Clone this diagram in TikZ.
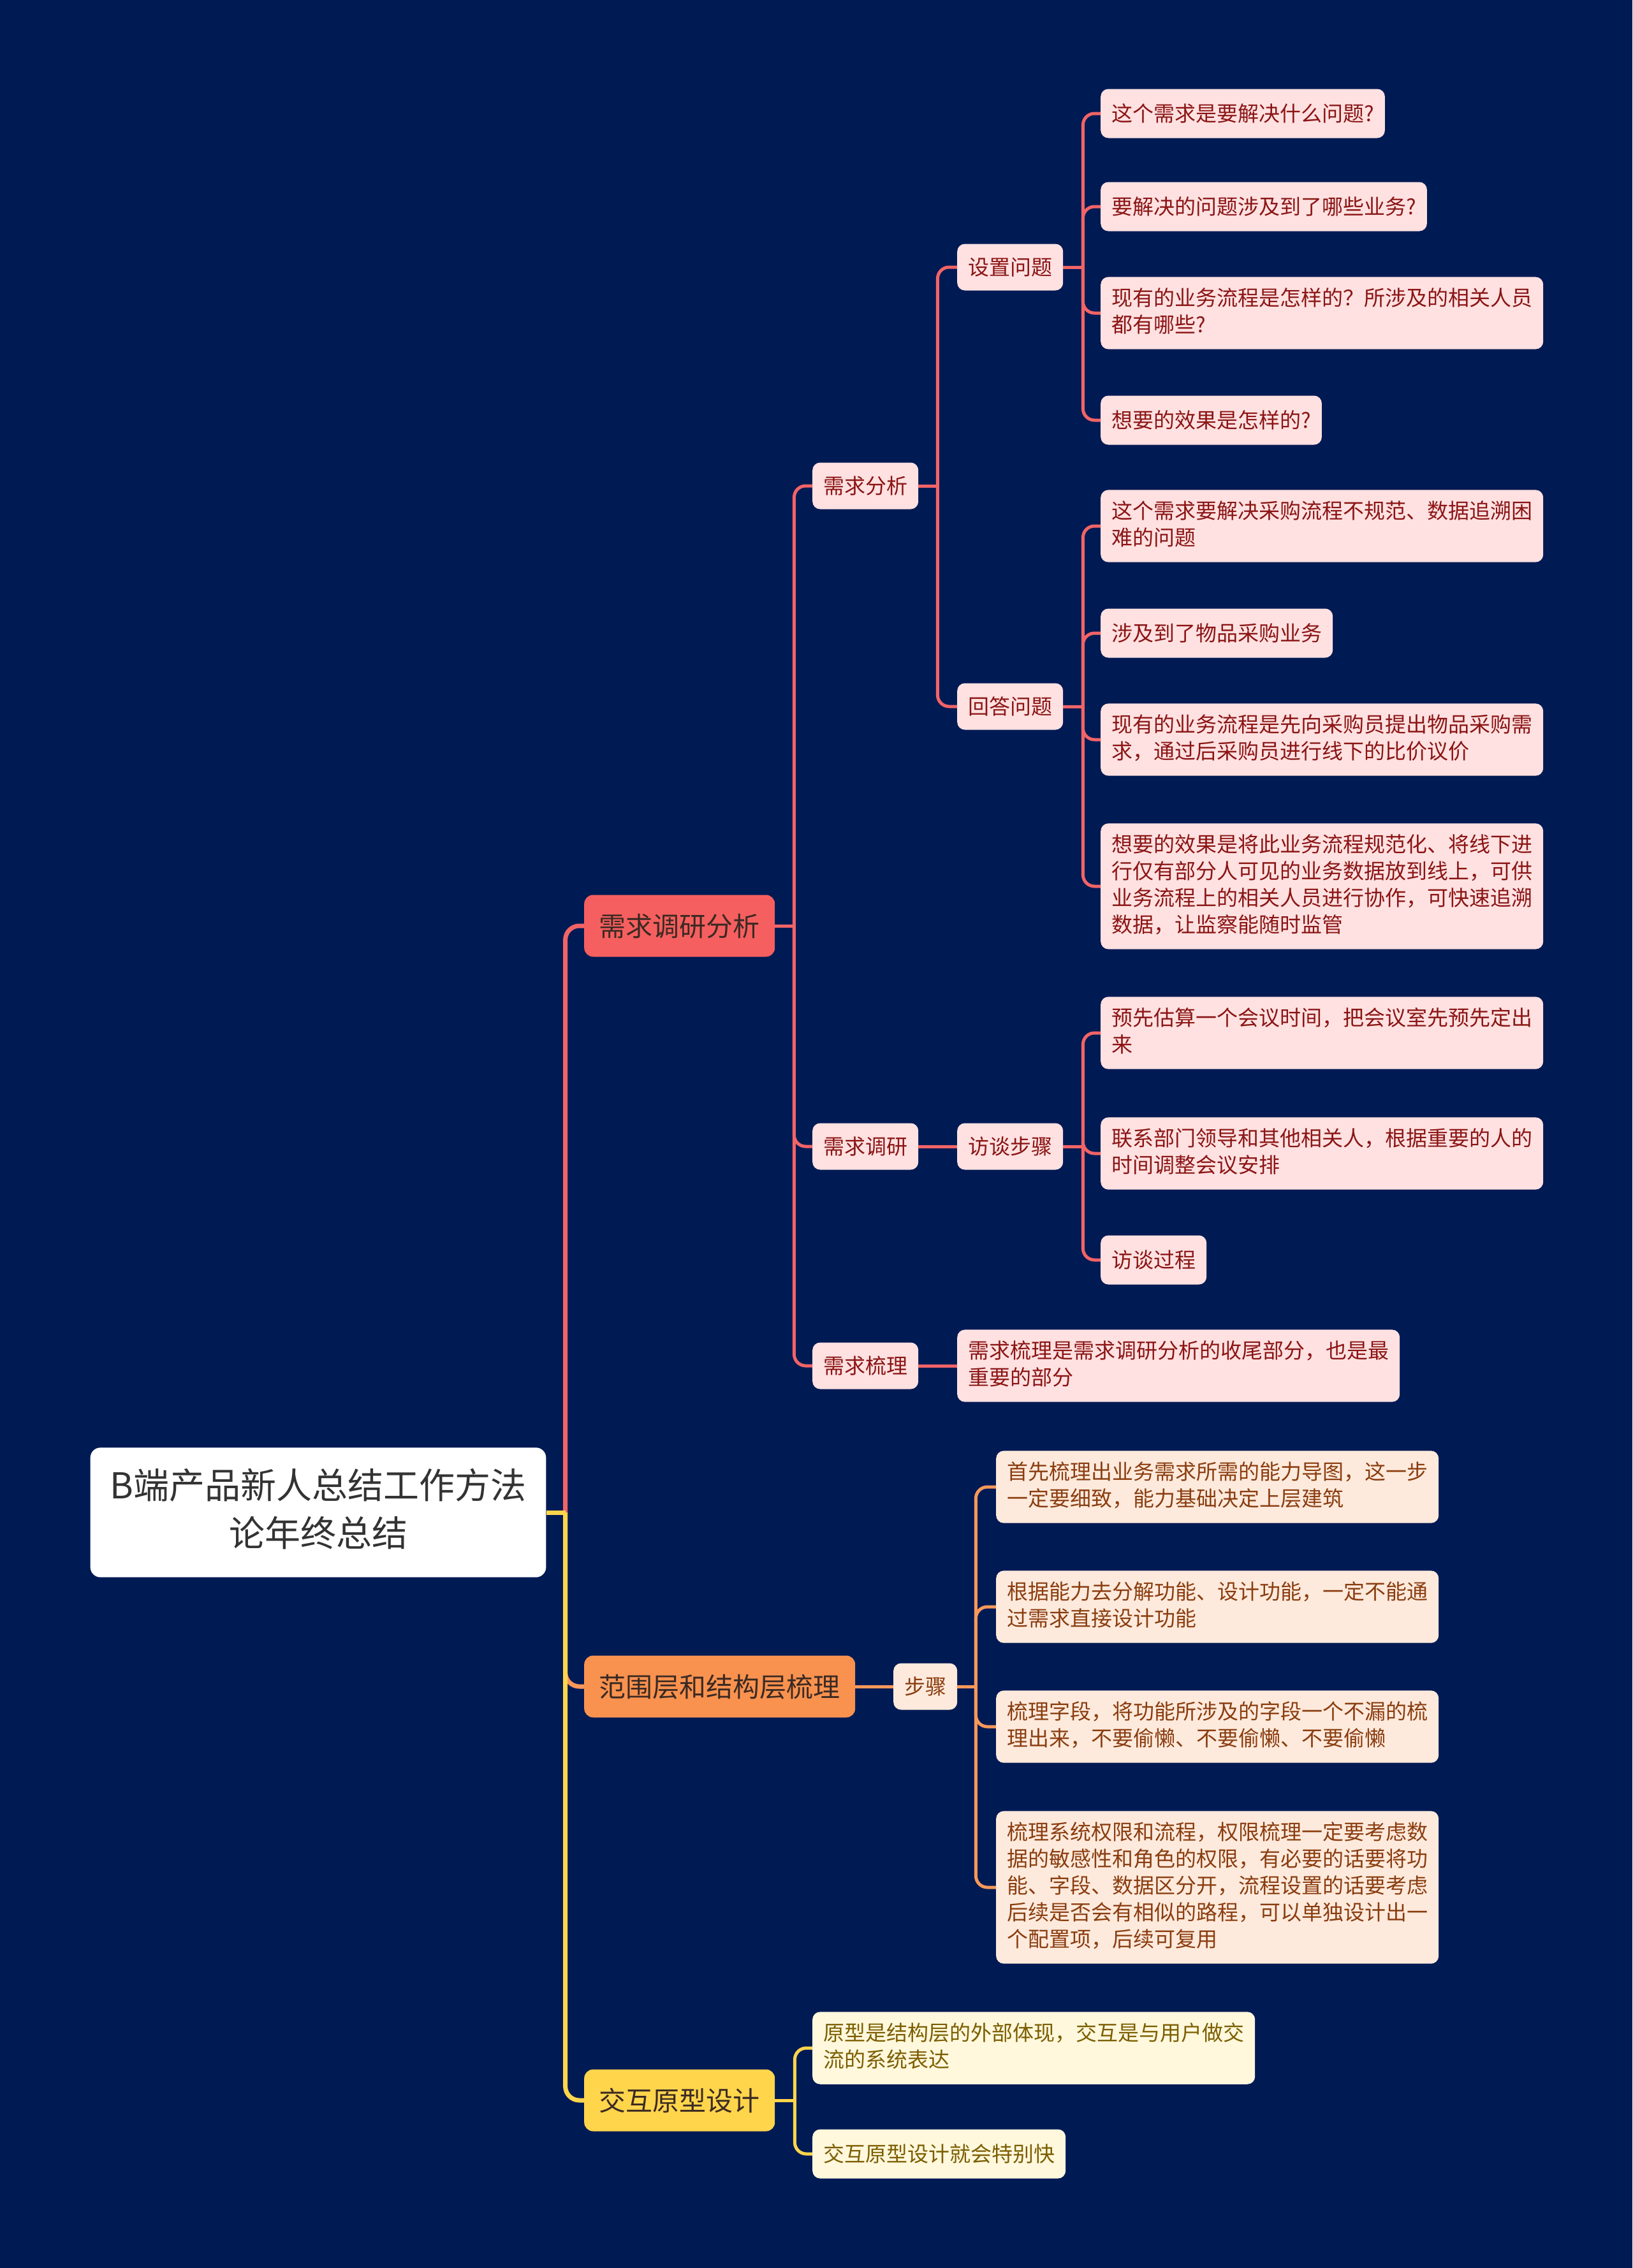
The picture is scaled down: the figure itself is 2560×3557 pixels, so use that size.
\documentclass[tikz,border=0pt]{standalone}
\usepackage{fontspec}
\setmainfont{Noto Sans CJK SC}

\definecolor{bgnavy}{HTML}{001A54}
\definecolor{roottext}{HTML}{333333}
\definecolor{maintext}{HTML}{3B2A23}
\definecolor{redmain}{HTML}{F65F5F}
\definecolor{orangemain}{HTML}{F9924F}
\definecolor{yellowmain}{HTML}{FFD54C}
\definecolor{redline}{HTML}{F26466}
\definecolor{orangeline}{HTML}{F9985A}
\definecolor{yellowline}{HTML}{FFD54C}
\definecolor{pinkfill}{HTML}{FFE1E1}
\definecolor{redtext}{HTML}{8B1515}
\definecolor{peachfill}{HTML}{FEEADC}
\definecolor{browntext}{HTML}{8A3D10}
\definecolor{creamfill}{HTML}{FFF8DD}
\definecolor{olivetext}{HTML}{7C5E00}

% strut that centres CJK glyphs in the box
\newcommand{\boxstrut}{\rule[-0.2\baselineskip]{0pt}{\baselineskip}}

\tikzset{
    box/.style={anchor=west, align=left, rounded corners=12pt,
        execute at begin node=\boxstrut, execute at end node=\boxstrut},
    rootbox/.style={box, anchor=center, align=center, fill=white, text=roottext,
        inner xsep=31pt, inner ysep=33pt, rounded corners=16pt,
        font=\fontsize{56}{75}\selectfont},
    mainbox/.style={box, text=maintext, inner xsep=23.5pt, inner ysep=21.5pt,
        rounded corners=14pt, font=\fontsize{42}{54}\selectfont},
    tagbox/.style={box, inner xsep=17pt, inner ysep=15.5pt,
        font=\fontsize{33}{42}\selectfont},
    leafbox/.style={tagbox, inner ysep=17.5pt},
    redtag/.style={tagbox, fill=pinkfill, text=redtext},
    redleaf/.style={leafbox, fill=pinkfill, text=redtext},
    orangetag/.style={tagbox, fill=peachfill, text=browntext},
    orangeleaf/.style={leafbox, fill=peachfill, text=browntext},
    yellowleaf/.style={leafbox, fill=creamfill, text=olivetext},
    mainlink/.style={line width=7pt, rounded corners=22pt},
    link/.style={line width=5pt, rounded corners=18pt}
}

\begin{document}
\begin{tikzpicture}[x=1pt, y=-1pt]
        % Background
        \fill[bgnavy] (0,0) rectangle (2560,3557);
        \useasboundingbox (0,0) rectangle (2560,3557);

        % Draw boxes (root and main branches)
        \node[rootbox] (root) at (499,2372) {B端产品新人总结工作方法\\论年终总结};
        \node[mainbox, fill=redmain] (ana) at (916,1452) {需求调研分析};
        \node[mainbox, fill=orangemain] (scope) at (916,2645) {范围层和结构层梳理};
        \node[mainbox, fill=yellowmain] (proto) at (916,3294) {交互原型设计};

        % Red branch
        \node[redtag] (need) at (1274,762) {需求分析};
        \node[redtag] (survey) at (1274,1798) {需求调研};
        \node[redtag] (sort) at (1274,2142) {需求梳理};
        \node[redtag] (ask) at (1501,419) {设置问题};
        \node[redtag] (answer) at (1501,1108) {回答问题};
        \node[redtag] (interview) at (1501,1798) {访谈步骤};
        \node[redleaf] (sortnote) at (1501,2142) {需求梳理是需求调研分析的收尾部分，也是最\\重要的部分};

        \foreach \y/\txt [count=\i] in {
            178/{这个需求是要解决什么问题?},
            324/{要解决的问题涉及到了哪些业务?},
            491/{现有的业务流程是怎样的？所涉及的相关人员\\都有哪些?},
            659/{想要的效果是怎样的?}}{
            \node[redleaf] (ask\i) at (1726,\y) {\txt};
        }
        \foreach \y/\txt [count=\i] in {
            825/{这个需求要解决采购流程不规范、数据追溯困\\难的问题},
            993/{涉及到了物品采购业务},
            1160/{现有的业务流程是先向采购员提出物品采购需\\求，通过后采购员进行线下的比价议价},
            1390/{想要的效果是将此业务流程规范化、将线下进\\行仅有部分人可见的业务数据放到线上，可供\\业务流程上的相关人员进行协作，可快速追溯\\数据，让监察能随时监管}}{
            \node[redleaf] (answer\i) at (1726,\y) {\txt};
        }
        \foreach \y/\txt [count=\i] in {
            1620/{预先估算一个会议时间，把会议室先预先定出\\来},
            1809/{联系部门领导和其他相关人，根据重要的人的\\时间调整会议安排},
            1976/{访谈过程}}{
            \node[redleaf] (interview\i) at (1726,\y) {\txt};
        }

        % Orange branch
        \node[orangetag] (stepsb) at (1401,2645) {步骤};
        \foreach \y/\txt [count=\i] in {
            2332/{首先梳理出业务需求所需的能力导图，这一步\\一定要细致，能力基础决定上层建筑},
            2520/{根据能力去分解功能、设计功能，一定不能通\\过需求直接设计功能},
            2708/{梳理字段，将功能所涉及的字段一个不漏的梳\\理出来，不要偷懒、不要偷懒、不要偷懒},
            2960/{梳理系统权限和流程，权限梳理一定要考虑数\\据的敏感性和角色的权限，有必要的话要将功\\能、字段、数据区分开，流程设置的话要考虑\\后续是否会有相似的路程，可以单独设计出一\\个配置项，后续可复用}}{
            \node[orangeleaf] (stepsb\i) at (1562,\y) {\txt};
        }

        % Yellow branch
        \node[yellowleaf] (proto1) at (1274,3212) {原型是结构层的外部体现，交互是与用户做交\\流的系统表达};
        \node[yellowleaf] (proto2) at (1274,3378) {交互原型设计就会特别快};

        % Draw connects (Edges)
        \coordinate (rootfork) at ([xshift=30pt]root.east);
        \draw[mainlink, redline] (rootfork) |- (ana.west);
        \draw[mainlink, orangeline] (rootfork) |- (scope.west);
        \draw[mainlink, yellowline] (rootfork) |- (proto.west);
        \draw[mainlink, yellowline] (root.east) -- (rootfork);

        \coordinate (anafork) at ([xshift=30pt]ana.east);
        \draw[link, redline] (ana.east) -- (anafork);
        \foreach \x in {need, survey, sort}{
            \draw[link, redline] (anafork) |- (\x.west);
        }

        \coordinate (needfork) at ([xshift=30pt]need.east);
        \draw[link, redline] (need.east) -- (needfork);
        \foreach \x in {ask, answer}{
            \draw[link, redline] (needfork) |- (\x.west);
        }
        \draw[link, redline] (survey.east) -- (interview.west);
        \draw[link, redline] (sort.east) -- (sortnote.west);

        \coordinate (askfork) at ([xshift=31pt]ask.east);
        \coordinate (answerfork) at ([xshift=31pt]answer.east);
        \coordinate (interviewfork) at ([xshift=31pt]interview.east);
        \foreach \x/\n in {ask/4, answer/4, interview/3}{
            \draw[link, redline] (\x.east) -- (\x fork);
            \foreach \i in {1,...,\n}{
                \draw[link, redline] (\x fork) |- (\x\i.west);
            }
        }

        \draw[link, orangeline] (scope.east) -- (stepsb.west);
        \coordinate (stepsbfork) at ([xshift=29pt]stepsb.east);
        \draw[link, orangeline] (stepsb.east) -- (stepsbfork);
        \foreach \i in {1,...,4}{
            \draw[link, orangeline] (stepsbfork) |- (stepsb\i.west);
        }

        \coordinate (protofork) at ([xshift=31pt]proto.east);
        \draw[link, yellowline] (proto.east) -- (protofork);
        \foreach \i in {1,2}{
            \draw[link, yellowline] (protofork) |- (proto\i.west);
        }
    \end{tikzpicture}
\end{document}
